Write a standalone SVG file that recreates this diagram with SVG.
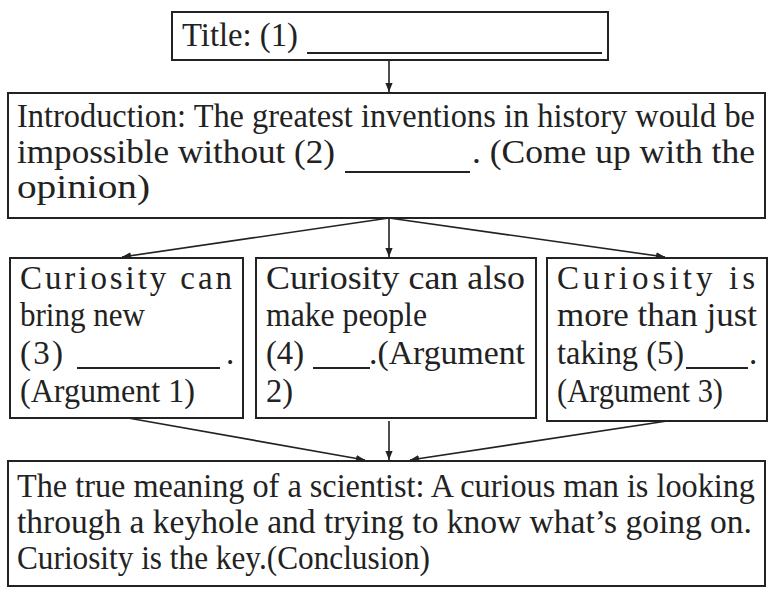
<svg xmlns="http://www.w3.org/2000/svg" width="781" height="595" viewBox="0 0 781 595">
<defs>
<marker id="ah" viewBox="0 0 10 10" refX="10" refY="5" markerWidth="9" markerHeight="9" markerUnits="userSpaceOnUse" orient="auto">
<path d="M0,1 L10,5 L0,9 Z" fill="#222"/>
</marker>
<style>
.box{fill:#fff;stroke:#222;stroke-width:2}
.t{font-family:"Liberation Serif","Times New Roman",serif;font-size:33px;fill:#222}
.blank{stroke:#222;stroke-width:2}
.c{stroke:#222;stroke-width:1.6;fill:none;marker-end:url(#ah)}
</style>
</defs>
<rect width="781" height="595" fill="#fff"/>
<g id="connectors">
<line class="c" x1="389" y1="60" x2="389" y2="92"/>
<line class="c" x1="389" y1="218" x2="122" y2="257"/>
<line class="c" x1="389" y1="218" x2="389" y2="257"/>
<line class="c" x1="389" y1="218" x2="665" y2="257"/>
<line class="c" x1="128" y1="418" x2="365" y2="460"/>
<line class="c" x1="389" y1="421" x2="389" y2="460"/>
<line class="c" x1="667" y1="421" x2="410" y2="460"/>
</g>
<g id="title">
<rect class="box" x="172" y="12" width="436" height="48"/>
<text class="t" x="182" y="46" textLength="116" lengthAdjust="spacingAndGlyphs">Title: (1)</text>
<line class="blank" x1="307" y1="53" x2="602" y2="53"/>
</g>
<g id="intro">
<rect class="box" x="8" y="93" width="757" height="125"/>
<text class="t" x="17" y="127" textLength="738" lengthAdjust="spacingAndGlyphs">Introduction: The greatest inventions in history would be</text>
<text class="t" x="17" y="163" textLength="318" lengthAdjust="spacingAndGlyphs">impossible without (2)</text>
<line class="blank" x1="345" y1="172" x2="470" y2="172"/>
<text class="t" x="472" y="163" textLength="283" lengthAdjust="spacingAndGlyphs">. (Come up with the</text>
<text class="t" x="17" y="198" textLength="133" lengthAdjust="spacingAndGlyphs">opinion)</text>
</g>
<g id="arg1">
<rect class="box" x="10" y="258" width="233" height="160"/>
<text class="t" x="20" y="289" textLength="212" lengthAdjust="spacing">Curiosity can</text>
<text class="t" x="20" y="326" textLength="125" lengthAdjust="spacingAndGlyphs">bring new</text>
<text class="t" x="20" y="364" textLength="43" lengthAdjust="spacing">(3)</text>
<line class="blank" x1="77" y1="368" x2="220" y2="368"/>
<text class="t" x="226" y="364">.</text>
<text class="t" x="20" y="402" textLength="175" lengthAdjust="spacingAndGlyphs">(Argument 1)</text>
</g>
<g id="arg2">
<rect class="box" x="256" y="258" width="280" height="160"/>
<text class="t" x="266" y="289" textLength="259" lengthAdjust="spacingAndGlyphs">Curiosity can also</text>
<text class="t" x="266" y="326" textLength="161" lengthAdjust="spacingAndGlyphs">make people</text>
<text class="t" x="266" y="364" textLength="38" lengthAdjust="spacingAndGlyphs">(4)</text>
<line class="blank" x1="313" y1="368" x2="370" y2="368"/>
<text class="t" x="369" y="364" textLength="156" lengthAdjust="spacingAndGlyphs">.(Argument</text>
<text class="t" x="266" y="402" textLength="27" lengthAdjust="spacingAndGlyphs">2)</text>
</g>
<g id="arg3">
<rect class="box" x="547" y="258" width="220" height="163"/>
<text class="t" x="557" y="289" textLength="198" lengthAdjust="spacing">Curiosity is</text>
<text class="t" x="557" y="326" textLength="200" lengthAdjust="spacingAndGlyphs">more than just</text>
<text class="t" x="557" y="364" textLength="127" lengthAdjust="spacingAndGlyphs">taking (5)</text>
<line class="blank" x1="686" y1="368" x2="748" y2="368"/>
<text class="t" x="749" y="364">.</text>
<text class="t" x="557" y="402" textLength="166" lengthAdjust="spacingAndGlyphs">(Argument 3)</text>
</g>
<g id="conclusion">
<rect class="box" x="8" y="461" width="757" height="125"/>
<text class="t" x="17" y="497" textLength="738" lengthAdjust="spacingAndGlyphs">The true meaning of a scientist: A curious man is looking</text>
<text class="t" x="17" y="533" textLength="735" lengthAdjust="spacingAndGlyphs">through a keyhole and trying to know what’s going on.</text>
<text class="t" x="17" y="569" textLength="413" lengthAdjust="spacingAndGlyphs">Curiosity is the key.(Conclusion)</text>
</g>
</svg>
